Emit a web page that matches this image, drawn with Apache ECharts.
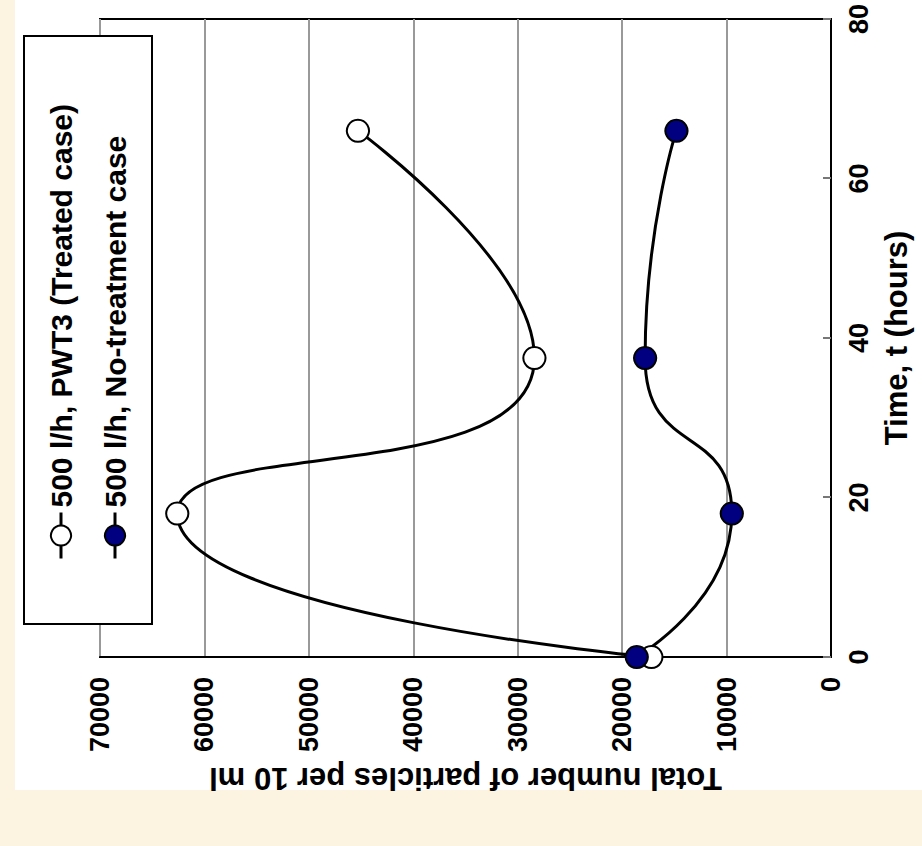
<!DOCTYPE html>
<html>
<head>
<meta charset="utf-8">
<script src="https://cdn.jsdelivr.net/npm/echarts@6/dist/echarts.min.js"></script>
<style>
html,body{margin:0;padding:0;width:922px;height:846px;overflow:hidden;background:#FCF3E0;}
#paper{position:absolute;left:15px;top:0;width:907px;height:790px;background:#fff;}
#chart{position:absolute;left:0;top:0;width:846px;height:922px;transform-origin:0 0;transform:translateY(846px) rotate(-90deg);}
</style>
</head>
<body>
<div id="paper"></div>
<div id="chart"></div>
<script>
// Data (original orientation: x = time in hours, y = particles per 10 ml)
const seriesNames = ['500 l/h, PWT3 (Treated case)', '500 l/h, No-treatment case'];
const timeTreated = [0, 18, 37.5, 66];
const particlesTreated = [17200, 62600, 28400, 45300];
const timeNoTreatment = [0, 18, 37.5, 66];
const particlesNoTreatment = [18600, 9500, 17800, 14800];
const timeTicks = [0, 20, 40, 60, 80];
const particleTicks = [0, 10000, 20000, 30000, 40000, 50000, 60000, 70000];

const textFont = "'Liberation Sans',Arial,Helvetica,sans-serif";

function zip(a, b) { return a.map((v, i) => [v, b[i]]); }

const chart = echarts.init(document.getElementById('chart'), null, {renderer: 'svg'});
chart.setOption({
  backgroundColor: 'transparent',
  animation: false,
  grid: {left: 189, right: 19, top: 100, bottom: 91, show: true, borderColor: '#000', borderWidth: 2, backgroundColor: 'transparent'},
  legend: {
    orient: 'vertical', left: 222, top: 24,
    backgroundColor: '#fff', borderColor: '#000', borderWidth: 2,
    padding: [22, 68, 22, 64], itemGap: 24, itemWidth: 46, itemHeight: 25,
    lineStyle: {width: 3},
    itemStyle: {borderWidth: 2},
    textStyle: {fontSize: 30, fontWeight: 'bold', fontFamily: textFont, color: '#000'},
    data: seriesNames
  },
  xAxis: {
    type: 'value', min: timeTicks[0], max: timeTicks[timeTicks.length - 1], interval: timeTicks[1] - timeTicks[0],
    axisLine: {show: true, lineStyle: {color: '#000', width: 2}},
    axisTick: {show: true, inside: true, length: 8, lineStyle: {color: '#777', width: 2}},
    axisLabel: {fontSize: 27, fontWeight: 'bold', fontFamily: textFont, color: '#000', margin: 14, formatter: v => String(v)},
    splitLine: {show: false},
    name: 'Time, t (hours)', nameLocation: 'middle', nameGap: 50,
    nameTextStyle: {fontSize: 31, fontWeight: 'bold', fontFamily: textFont, color: '#000'}
  },
  yAxis: {
    type: 'value', min: particleTicks[0], max: particleTicks[particleTicks.length - 1], interval: particleTicks[1] - particleTicks[0],
    axisLine: {show: true, lineStyle: {color: '#000', width: 2}},
    axisTick: {show: false},
    axisLabel: {fontSize: 27, fontWeight: 'bold', fontFamily: textFont, color: '#000', margin: 20, formatter: v => String(v)},
    splitLine: {show: true, lineStyle: {color: '#999', width: 2}},
    name: 'Total number of particles per 10 ml', nameLocation: 'middle', nameRotate: 90, nameGap: 68,
    nameTextStyle: {fontSize: 31, fontWeight: 'bold', fontFamily: textFont, color: '#000'}
  },
  series: [
    {
      type: 'line', name: seriesNames[0], data: zip(timeTreated, particlesTreated),
      smooth: 0.6, symbol: 'circle', symbolSize: 22,
      lineStyle: {color: '#000', width: 3},
      itemStyle: {color: '#fff', borderColor: '#000', borderWidth: 2}
    },
    {
      type: 'line', name: seriesNames[1], data: zip(timeNoTreatment, particlesNoTreatment),
      smooth: 0.6, symbol: 'circle', symbolSize: 22,
      lineStyle: {color: '#000', width: 3},
      itemStyle: {color: '#000080', borderColor: '#000', borderWidth: 2}
    }
  ]
});
</script>
</body>
</html>
